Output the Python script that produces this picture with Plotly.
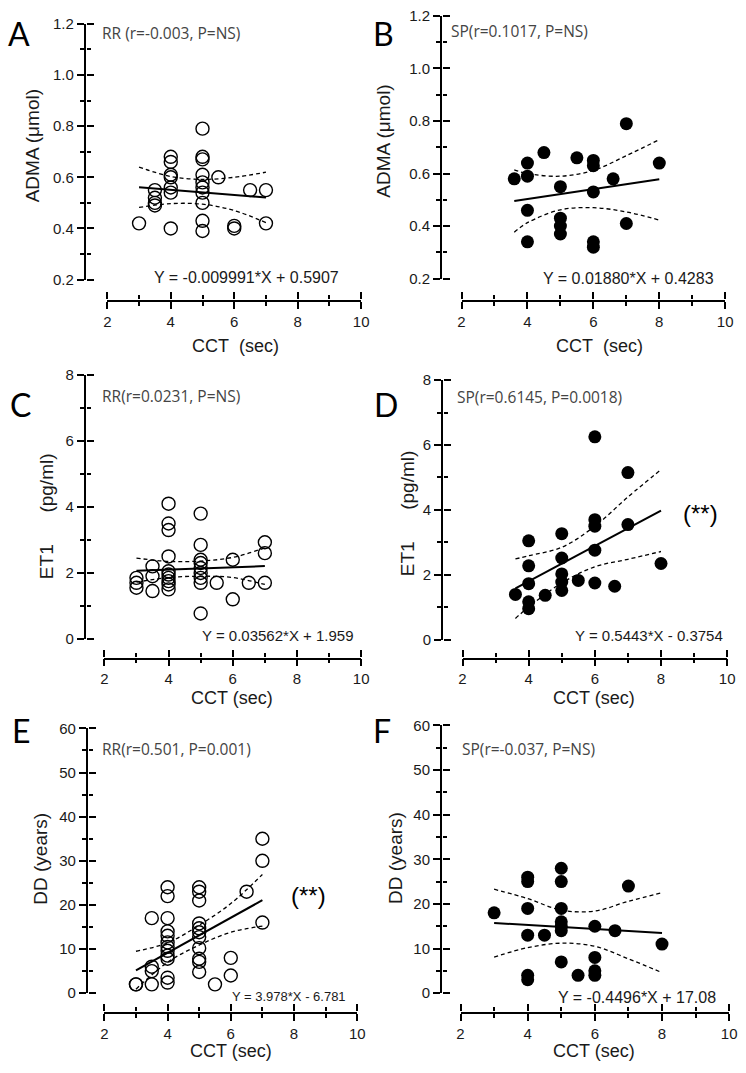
import plotly.graph_objects as go

W, H = 746, 1073

# ---------------- data ----------------
A_x = [3, 3.5, 3.5, 3.5, 3.5, 4, 4, 4, 4, 4, 4, 4, 5, 5, 5, 5, 5, 5, 5, 5, 5, 5, 5.5, 6, 6, 6.5, 7, 7]
A_y = [0.42, 0.55, 0.52, 0.50, 0.49, 0.68, 0.66, 0.61, 0.60, 0.56, 0.54, 0.40,
       0.79, 0.68, 0.67, 0.61, 0.58, 0.56, 0.54, 0.50, 0.43, 0.39, 0.60, 0.41, 0.40, 0.55, 0.55, 0.42]
A_fit = [-0.009991, 0.5907]
A_ci_x = [3, 4, 5, 6, 7]
A_ci_hi = [0.640, 0.603, 0.592, 0.600, 0.620]
A_ci_lo = [0.482, 0.497, 0.495, 0.470, 0.423]

B_x = [3.6, 4, 4, 4, 4, 4.5, 5, 5, 5, 5, 5.5, 6, 6, 6, 6, 6, 6.6, 7, 7, 8]
B_y = [0.58, 0.64, 0.59, 0.46, 0.34, 0.68, 0.55, 0.43, 0.40, 0.37, 0.66,
       0.65, 0.63, 0.53, 0.34, 0.32, 0.58, 0.79, 0.41, 0.64]
B_fit = [0.01880, 0.4283]
B_ci_x = [3.6, 4, 5, 6, 7, 8]
B_ci_hi = [0.614, 0.600, 0.590, 0.612, 0.668, 0.729]
B_ci_lo = [0.377, 0.413, 0.462, 0.470, 0.454, 0.423]

C_x = [3, 3, 3, 3.5, 3.5, 3.5, 4, 4, 4, 4, 4, 4, 4, 4, 4, 4,
       5, 5, 5, 5, 5, 5, 5, 5, 5, 5.5, 6, 6, 6.5, 7, 7, 7]
C_y = [1.85, 1.70, 1.55, 2.20, 1.90, 1.45, 4.10, 3.50, 3.30, 2.50, 2.05, 1.95, 1.85, 1.75, 1.65, 1.50,
       3.80, 2.85, 2.40, 2.30, 2.15, 2.00, 1.85, 1.70, 0.77, 1.70, 2.40, 1.20, 1.70, 2.93, 2.60, 1.70]
C_fit = [0.03562, 1.959]
C_ci_x = [3, 4, 5, 6, 7]
C_ci_hi = [2.45, 2.35, 2.36, 2.47, 2.76]
C_ci_lo = [1.72, 1.86, 1.90, 1.86, 1.65]

D_x = [3.6, 4, 4, 4, 4, 4, 4.5, 5, 5, 5, 5, 5, 5.5, 6, 6, 6, 6, 6, 6.6, 7, 7, 8]
D_y = [1.40, 3.05, 2.28, 1.73, 1.17, 0.96, 1.37, 3.27, 2.52, 2.03, 1.78, 1.52, 1.83,
       6.25, 3.70, 3.50, 2.76, 1.75, 1.65, 5.15, 3.55, 2.35]
D_fit = [0.5443, -0.3754]
D_ci_x = [3.6, 4, 5, 6, 7, 8]
D_ci_hi = [2.49, 2.59, 2.85, 3.50, 4.40, 5.24]
D_ci_lo = [0.66, 1.01, 1.75, 2.25, 2.48, 2.72]

E_x = [3, 3, 3.5, 3.5, 3.5, 3.5, 4, 4, 4, 4, 4, 4, 4, 4, 4, 4, 4, 4,
       5, 5, 5, 5, 5, 5, 5, 5, 5, 5, 5, 5.5, 6, 6, 6.5, 7, 7, 7]
E_y = [2, 2, 17, 6, 5, 2, 24, 22, 17, 14, 13, 11.5, 10.5, 9.6, 8.5, 7.8, 3.5, 2.4,
       24, 23, 21, 15.8, 14.7, 13.8, 12.7, 10.2, 7.8, 7.1, 4.8, 2, 8, 4, 23, 35, 30, 16]
E_fit = [3.978, -6.781]
E_ci_x = [3, 4, 5, 6, 7]
E_ci_hi = [9.5, 11.4, 15.4, 20.3, 26.9]
E_ci_lo = [0.9, 7.0, 10.9, 13.8, 15.2]

F_x = [3, 4, 4, 4, 4, 4, 4, 4.5, 5, 5, 5, 5, 5, 5, 5, 5.5, 6, 6, 6, 6, 6.6, 7, 8]
F_y = [18, 26, 25, 19, 13, 4, 3, 13, 28, 25, 19, 16, 15, 14, 7, 4, 15, 8, 5, 4, 14, 24, 11]
F_fit = [-0.4496, 17.08]
F_ci_x = [3, 4, 5, 6, 7, 8]
F_ci_hi = [23.3, 21.2, 18.6, 18.4, 20.6, 22.5]
F_ci_lo = [8.1, 10.2, 11.2, 10.5, 7.7, 4.6]

x_ticks = [2, 4, 6, 8, 10]
x_labels = ["2", "4", "6", "8", "10"]
x_minor = [3, 5, 7, 9]
adma_ticks = [0.2, 0.4, 0.6, 0.8, 1.0, 1.2]
adma_labels = ["0.2", "0.4", "0.6", "0.8", "1.0", "1.2"]
adma_minor = [0.3, 0.5, 0.7, 0.9, 1.1]
et1_ticks = [0, 2, 4, 6, 8]
et1_labels = ["0", "2", "4", "6", "8"]
et1_minor = [1, 3, 5, 7]
dd_ticks = [0, 10, 20, 30, 40, 50, 60]
dd_labels = ["0", "10", "20", "30", "40", "50", "60"]
dd_minor = [5, 15, 25, 35, 45, 55]

panel_letters = ["A", "B", "C", "D", "E", "F"]
stat_texts = ["RR (r=-0.003, P=NS)", "SP(r=0.1017, P=NS)", "RR(r=0.0231, P=NS)",
              "SP(r=0.6145, P=0.0018)", "RR(r=0.501, P=0.001)", "SP(r=-0.037, P=NS)"]
eq_texts = ["Y = -0.009991*X + 0.5907", "Y = 0.01880*X + 0.4283", "Y = 0.03562*X + 1.959",
            "Y = 0.5443*X - 0.3754", "Y = 3.978*X - 6.781", "Y = -0.4496*X + 17.08"]
x_titles = ["CCT\u00a0\u00a0(sec)", "CCT\u00a0\u00a0(sec)", "CCT (sec)", "CCT (sec)", "CCT (sec)", "CCT (sec)"]
y_titles = ["ADMA (\u03bcmol)", "ADMA (\u03bcmol)",
            "ET1\u00a0\u00a0\u00a0\u00a0\u00a0\u00a0(pg/ml)", "ET1\u00a0\u00a0\u00a0\u00a0\u00a0\u00a0(pg/ml)",
            "DD (years)", "DD (years)"]

panels = [
    dict(x=A_x, y=A_y, fit=A_fit, cx=A_ci_x, hi=A_ci_hi, lo=A_ci_lo, filled=False,
         yr=[0.2, 1.2], yt=adma_ticks, yl=adma_labels, ym=adma_minor),
    dict(x=B_x, y=B_y, fit=B_fit, cx=B_ci_x, hi=B_ci_hi, lo=B_ci_lo, filled=True,
         yr=[0.2, 1.2], yt=adma_ticks, yl=adma_labels, ym=adma_minor),
    dict(x=C_x, y=C_y, fit=C_fit, cx=C_ci_x, hi=C_ci_hi, lo=C_ci_lo, filled=False,
         yr=[0, 8], yt=et1_ticks, yl=et1_labels, ym=et1_minor),
    dict(x=D_x, y=D_y, fit=D_fit, cx=D_ci_x, hi=D_ci_hi, lo=D_ci_lo, filled=True,
         yr=[0, 8], yt=et1_ticks, yl=et1_labels, ym=et1_minor),
    dict(x=E_x, y=E_y, fit=E_fit, cx=E_ci_x, hi=E_ci_hi, lo=E_ci_lo, filled=False,
         yr=[0, 60], yt=dd_ticks, yl=dd_labels, ym=dd_minor),
    dict(x=F_x, y=F_y, fit=F_fit, cx=F_ci_x, hi=F_ci_hi, lo=F_ci_lo, filled=True,
         yr=[0, 60], yt=dd_ticks, yl=dd_labels, ym=dd_minor),
]

# ---------------- geometry (pixels) ----------------
geom = [
    dict(xl=105, xr=363, yt=15, yb=275, yax=83, xax=296),
    dict(xl=465, xr=733, yt=7, yb=274, yax=445, xax=296),
    dict(xl=102, xr=363, yt=372, yb=640, yax=83, xax=659),
    dict(xl=466, xr=735, yt=377, yb=641, yax=446, xax=659),
    dict(xl=102, xr=359, yt=731, yb=1000, yax=85, xax=1019),
    dict(xl=464, xr=737, yt=728, yb=1000, yax=445, xax=1019),
]
letter_pos = [(15, 25), (386, 25), (17, 402), (388, 402), (17, 733), (384, 733)]
stat_pos = [(98, 24), (452, 22), (98, 393), (458, 394), (98, 752), (463, 752)]
eq_pos = [(343, 273), (724, 274), (358, 637), (733, 637), (350, 1003), (726, 1004)]
eq_size = [16, 16, 15, 15, 13, 16]
xt_pos = [(235, 342), (605, 342), (232, 700), (600, 700), (231, 1059), (600, 1059)]
yt_pos = [(29, 139), (386, 134), (44, 515), (410, 512), (37, 863), (398, 863)]
star_pos = {3: (708, 513), 4: (309, 901)}

EPS = 0.002
LINE_W = 1.6
TICK_FONT = dict(family="Liberation Sans, Arial, sans-serif", size=15, color="#1a1a1a")
TEXT_FONT = "Liberation Sans, Arial, sans-serif"


def fx(p):
    return p / W


def fy(p):
    return 1 - p / H


fig = go.Figure()
layout = dict(width=W, height=H, margin=dict(l=0, r=0, t=0, b=0), autosize=False,
              paper_bgcolor="white", plot_bgcolor="rgba(0,0,0,0)", showlegend=False,
              font=dict(family=TEXT_FONT, color="#1a1a1a", size=15))
annotations = []
counter = [0]


def new_pair():
    counter[0] += 1
    n = counter[0]
    xid = "x" if n == 1 else f"x{n}"
    yid = "y" if n == 1 else f"y{n}"
    xkey = "xaxis" if n == 1 else f"xaxis{n}"
    ykey = "yaxis" if n == 1 else f"yaxis{n}"
    return xid, yid, xkey, ykey


HIDDEN = dict(visible=False, showgrid=False, zeroline=False, fixedrange=True)


def dummy(xid, yid, xv, yv):
    fig.add_trace(go.Scatter(x=[xv], y=[yv], xaxis=xid, yaxis=yid, mode="lines",
                             hoverinfo="skip", showlegend=False))


for i, (p, g) in enumerate(zip(panels, geom)):
    xdom = [fx(g["xl"]), fx(g["xr"])]
    ydom = [fy(g["yb"]), fy(g["yt"])]
    ymid = (p["yr"][0] + p["yr"][1]) / 2

    # data subplot (axes hidden)
    xd, yd, xk, yk = new_pair()
    layout[xk] = dict(domain=xdom, range=[2, 10], anchor=yd, **HIDDEN)
    layout[yk] = dict(domain=ydom, range=p["yr"], anchor=xd, **HIDDEN)

    # x axis with labels and outward ticks, drawn at the detached baseline
    xa, ya, xk, yk = new_pair()
    layout[xk] = dict(domain=xdom, range=[2, 10], anchor=ya, side="bottom", showgrid=False,
                      zeroline=False, showline=True, linecolor="black", linewidth=LINE_W,
                      tickvals=x_ticks, ticktext=x_labels, ticks="outside", ticklen=7,
                      tickwidth=LINE_W, tickcolor="black", tickfont=TICK_FONT, fixedrange=True,
                      minor=dict(tickvals=x_minor, ticks="outside", ticklen=4, tickwidth=LINE_W,
                                 tickcolor="black", showgrid=False))
    layout[yk] = dict(domain=[fy(g["xax"]), fy(g["xax"]) + EPS], range=[0, 1], anchor=xa, **HIDDEN)
    dummy(xa, ya, 6, 0.5)

    # x axis upward tick halves
    xb, yb, xk, yk = new_pair()
    layout[xk] = dict(domain=xdom, range=[2, 10], anchor=yb, side="top", showgrid=False,
                      zeroline=False, showline=False, showticklabels=False,
                      tickvals=x_ticks, ticks="outside", ticklen=7, tickwidth=LINE_W,
                      tickcolor="black", fixedrange=True,
                      minor=dict(tickvals=x_minor, ticks="outside", ticklen=4, tickwidth=LINE_W,
                                 tickcolor="black", showgrid=False))
    layout[yk] = dict(domain=[fy(g["xax"]) - EPS, fy(g["xax"])], range=[0, 1], anchor=xb, **HIDDEN)
    dummy(xb, yb, 6, 0.5)

    # y axis with labels and outward (left) ticks
    xc, yc, xk, yk = new_pair()
    layout[yk] = dict(domain=ydom, range=p["yr"], anchor=xc, side="left", showgrid=False,
                      zeroline=False, showline=True, linecolor="black", linewidth=LINE_W,
                      tickvals=p["yt"], ticktext=p["yl"], ticks="outside", ticklen=7,
                      tickwidth=LINE_W, tickcolor="black", tickfont=TICK_FONT, fixedrange=True,
                      minor=dict(tickvals=p["ym"], ticks="outside", ticklen=4, tickwidth=LINE_W,
                                 tickcolor="black", showgrid=False))
    layout[xk] = dict(domain=[fx(g["yax"]), fx(g["yax"]) + EPS], range=[0, 1], anchor=yc, **HIDDEN)
    dummy(xc, yc, 0.5, ymid)

    # y axis rightward tick halves
    xe, ye, xk, yk = new_pair()
    layout[yk] = dict(domain=ydom, range=p["yr"], anchor=xe, side="right", showgrid=False,
                      zeroline=False, showline=False, showticklabels=False,
                      tickvals=p["yt"], ticks="outside", ticklen=7, tickwidth=LINE_W,
                      tickcolor="black", fixedrange=True,
                      minor=dict(tickvals=p["ym"], ticks="outside", ticklen=4, tickwidth=LINE_W,
                                 tickcolor="black", showgrid=False))
    layout[xk] = dict(domain=[fx(g["yax"]) - EPS, fx(g["yax"])], range=[0, 1], anchor=ye, **HIDDEN)
    dummy(xe, ye, 0.5, ymid)

    # data points
    if p["filled"]:
        marker = dict(symbol="circle", size=13, color="black")
    else:
        marker = dict(symbol="circle-open", size=13, color="black", line=dict(width=1.4, color="black"))
    fig.add_trace(go.Scatter(x=p["x"], y=p["y"], mode="markers", marker=marker,
                             xaxis=xd, yaxis=yd, cliponaxis=False, showlegend=False))
    # confidence bands
    for band in (p["hi"], p["lo"]):
        fig.add_trace(go.Scatter(x=p["cx"], y=band, mode="lines", xaxis=xd, yaxis=yd, showlegend=False,
                                 line=dict(color="black", width=1.3, dash="4px,3px", shape="spline")))
    # regression line from the equation printed on the panel
    x0, x1 = min(p["x"]), max(p["x"])
    m, b = p["fit"]
    fig.add_trace(go.Scatter(x=[x0, x1], y=[m * x0 + b, m * x1 + b], mode="lines", showlegend=False,
                             xaxis=xd, yaxis=yd, line=dict(color="black", width=2)))

    # texts
    lx, ly = letter_pos[i]
    annotations.append(dict(text=panel_letters[i], x=fx(lx), y=fy(ly), xref="paper", yref="paper",
                            showarrow=False, xanchor="center", yanchor="middle",
                            font=dict(family="Lato, Open Sans, sans-serif", size=32, color="black")))
    sx, sy = stat_pos[i]
    annotations.append(dict(text=stat_texts[i], x=fx(sx), y=fy(sy), xref="paper", yref="paper",
                            showarrow=False, xanchor="left", yanchor="middle",
                            font=dict(family="Open Sans, sans-serif", size=15.5, color="#444444")))
    ex, ey = eq_pos[i]
    annotations.append(dict(text=eq_texts[i], x=fx(ex), y=fy(ey), xref="paper", yref="paper",
                            showarrow=False, xanchor="right", yanchor="middle",
                            font=dict(family=TEXT_FONT, size=eq_size[i], color="#1a1a1a")))
    tx, ty = xt_pos[i]
    annotations.append(dict(text=x_titles[i], x=fx(tx), y=fy(ty), xref="paper", yref="paper",
                            showarrow=False, xanchor="center", yanchor="middle",
                            font=dict(family=TEXT_FONT, size=18, color="#1a1a1a")))
    vx, vy = yt_pos[i]
    annotations.append(dict(text=y_titles[i], x=fx(vx), y=fy(vy), xref="paper", yref="paper",
                            showarrow=False, xanchor="center", yanchor="middle", textangle=-90,
                            font=dict(family=TEXT_FONT, size=19, color="#1a1a1a")))
    if i in star_pos:
        qx, qy = star_pos[i]
        annotations.append(dict(text="(**)", x=fx(qx), y=fy(qy), xref="paper", yref="paper",
                                showarrow=False, xanchor="center", yanchor="middle",
                                font=dict(family=TEXT_FONT, size=24, color="black")))

layout["annotations"] = annotations
fig.update_layout(**layout)
fig.write_html("out.html", config={"displayModeBar": False},
               post_script="document.body.style.margin='0px';")
